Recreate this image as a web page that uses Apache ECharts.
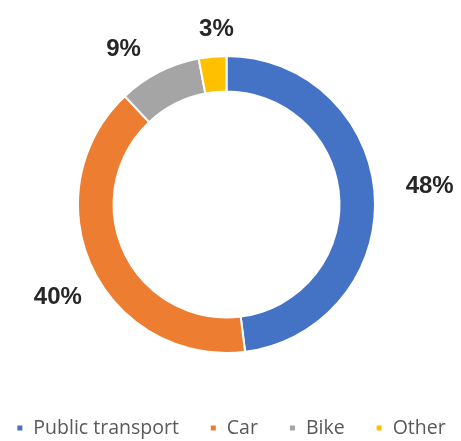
<!DOCTYPE html>
<html>
<head>
<meta charset="utf-8">
<script src="https://cdn.jsdelivr.net/npm/echarts@6/dist/echarts.min.js"></script>
<style>html,body{margin:0;padding:0;background:#fff;}#chart{width:461px;height:441px;}</style>
</head>
<body>
<div id="chart"></div>
<script>
const categories = ['Public transport', 'Car', 'Bike', 'Other'];
const values = [48, 40, 9, 3];
const colors = ['#4472C4', '#ED7D31', '#A5A5A5', '#FFC000'];
// small label nudges (style only)
const labelNudge = [[-1, 1], [4, 1], [0, 3], [2, 2]];
const labelBase = [[-2, -8], [17, 16], [0, 0], [27, 0]];

const chart = echarts.init(document.getElementById('chart'), null, {renderer: 'canvas'});
chart.setOption({
  animation: false,
  backgroundColor: '#ffffff',
  color: colors,
  legend: {
    top: 413,
    left: 'center',
    itemWidth: 7,
    itemHeight: 7,
    itemGap: 30,
    icon: 'rect',
    textStyle: {fontFamily: 'Open Sans', fontSize: 19.5, color: '#595959', padding: [0, 0, 0, 5]},
    data: categories
  },
  series: [{
    type: 'pie',
    center: [226.5, 204.5],
    radius: [113, 148.5],
    startAngle: 90,
    clockwise: true,
    avoidLabelOverlap: false,
    itemStyle: {borderColor: '#ffffff', borderWidth: 2},
    label: {
      show: true,
      position: 'outside',
      formatter: '{d}%',
      fontFamily: 'Liberation Sans',
      fontWeight: 'bold',
      fontSize: 24,
      color: '#262626'
    },
    labelLine: {show: false, length: 29, length2: 0},
    labelLayout: function (p) {
      const n = labelNudge[p.dataIndex], b = labelBase[p.dataIndex];
      return {dx: n[0] + b[0], dy: n[1] + b[1]};
    },
    data: categories.map((c, i) => ({name: c, value: values[i]}))
  }]
});
</script>
</body>
</html>
